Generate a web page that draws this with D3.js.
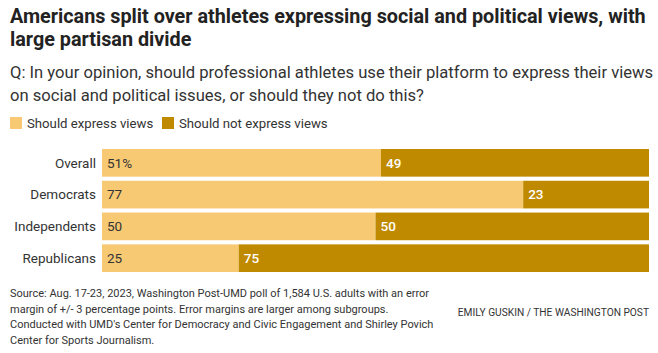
<!DOCTYPE html>
<html>
<head>
<meta charset="utf-8">
<script src="https://cdn.jsdelivr.net/npm/d3@7"></script>
<style>
  body { margin: 0; background: #fff; }
  text { font-family: 'Roboto', 'Liberation Sans', sans-serif; }
</style>
</head>
<body>
<svg id="chart" width="658" height="353"></svg>
<script>
const groups = ['Overall', 'Democrats', 'Independents', 'Republicans']
const express = [51, 77, 50, 25]
const notExpress = [49, 23, 50, 75]
const seriesNames = ['Should express views', 'Should not express views']

const titleLines = ['Americans split over athletes expressing social and political views, with', 'large partisan divide']
const questionLines = ['Q: In your opinion, should professional athletes use their platform to express their views', 'on social and political issues, or should they not do this?']
const sourceLines = [
    'Source: Aug. 17-23, 2023, Washington Post-UMD poll of 1,584 U.S. adults with an error',
    'margin of +/- 3 percentage points. Error margins are larger among subgroups.',
    'Conducted with UMD\'s Center for Democracy and Civic Engagement and Shirley Povich',
    'Center for Sports Journalism.'
]
const credit = 'EMILY GUSKIN / THE WASHINGTON POST'

function main() {
    let svg = d3.select('#chart'),
        margin = {top: 149, left: 102, right: 9},
        width = 658 - margin.left - margin.right

    let colors = ['#f7c973', '#c08a00']

    let data = groups.map((g, i) => ({group: g, values: [express[i], notExpress[i]]}))

    let x = d3.scaleLinear().domain([0, 100]).range([0, width])
    let y = d3.scaleBand().domain(groups).range([0, 123]).paddingInner(0.13).paddingOuter(0)

    // titles
    svg.append('g').selectAll('text')
        .data(titleLines)
        .enter().append('text')
        .attr('x', 10)
        .attr('y', (d, i) => 23 + i * 23)
        .attr('font-size', 19.8)
        .attr('font-weight', 'bold')
        .attr('fill', '#222')
        .text(d => d)

    svg.append('g').selectAll('text')
        .data(questionLines)
        .enter().append('text')
        .attr('x', 10)
        .attr('y', (d, i) => 78 + i * 23)
        .attr('font-size', 16.6)
        .attr('fill', '#333')
        .text(d => d)

    // legend
    let legend = svg.append('g').attr('transform', 'translate(10,117)')
    let lx = [0, 152]
    seriesNames.forEach((name, i) => {
        legend.append('rect')
            .attr('x', lx[i]).attr('y', 0)
            .attr('width', 12).attr('height', 12)
            .attr('fill', colors[i])
        legend.append('text')
            .attr('x', lx[i] + 17).attr('y', 10.5)
            .attr('font-size', 13.2)
            .attr('fill', '#333')
            .text(name)
    })

    let g = svg.append('g').attr('transform', 'translate(' + margin.left + ',' + margin.top + ')')

    let rows = g.selectAll('.row')
        .data(data)
        .enter().append('g')
        .attr('class', 'row')
        .attr('transform', d => 'translate(0,' + y(d.group) + ')')

    rows.append('text')
        .attr('x', -6)
        .attr('y', y.bandwidth() / 2)
        .attr('dy', '0.35em')
        .attr('text-anchor', 'end')
        .attr('font-size', 13.5)
        .attr('fill', '#333')
        .text(d => d.group)

    rows.append('rect')
        .attr('x', 0)
        .attr('width', d => x(d.values[0]))
        .attr('height', y.bandwidth())
        .attr('fill', colors[0])

    rows.append('rect')
        .attr('x', d => x(d.values[0]))
        .attr('width', d => x(100) - x(d.values[0]))
        .attr('height', y.bandwidth())
        .attr('fill', colors[1])

    rows.append('text')
        .attr('x', 5)
        .attr('y', y.bandwidth() / 2)
        .attr('dy', '0.35em')
        .attr('font-size', 13.5)
        .attr('fill', '#333')
        .text((d, i) => d.values[0] + (i === 0 ? '%' : ''))

    rows.append('text')
        .attr('x', d => x(d.values[0]) + 5)
        .attr('y', y.bandwidth() / 2)
        .attr('dy', '0.35em')
        .attr('font-size', 13.5)
        .attr('font-weight', 500)
        .attr('fill', '#fff')
        .text(d => d.values[1])

    // footer
    svg.append('g').selectAll('text')
        .data(sourceLines)
        .enter().append('text')
        .attr('x', 10)
        .attr('y', (d, i) => 297 + i * 15.5)
        .attr('font-size', 11)
        .attr('fill', '#333')
        .text(d => d)

    svg.append('text')
        .attr('x', 649)
        .attr('y', 316)
        .attr('text-anchor', 'end')
        .attr('font-size', 10.2)
        .attr('fill', '#333')
        .text(credit)
}

main()
</script>
</body>
</html>
